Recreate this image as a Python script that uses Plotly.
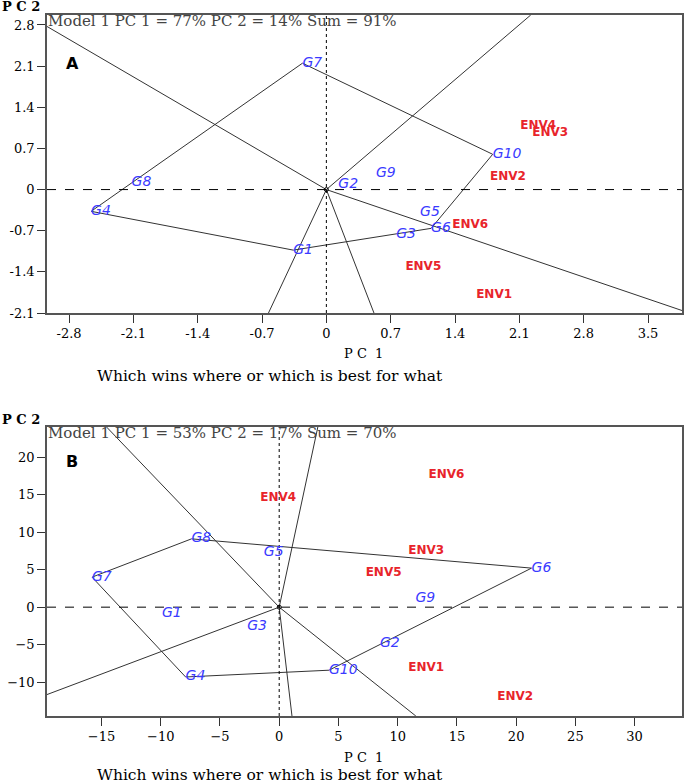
import numpy as np
import plotly.graph_objects as go

# panel A: genotype and environment scores (PC1, PC2)
a_gen = ["G1", "G2", "G3", "G4", "G5", "G6", "G7", "G8", "G9", "G10"]
a_gen_pc1 = [-0.36, 0.13, 0.76, -2.56, 1.02, 1.14, -0.26, -2.12, 0.54, 1.81]
a_gen_pc2 = [-1.03, 0.08, -0.76, -0.37, -0.39, -0.66, 2.15, 0.12, 0.27, 0.60]
a_env = ["ENV1", "ENV2", "ENV3", "ENV4", "ENV5", "ENV6"]
a_env_pc1 = [1.63, 1.78, 2.24, 2.11, 0.86, 1.37]
a_env_pc2 = [-1.79, 0.22, 0.97, 1.08, -1.31, -0.60]
a_hull = ["G7", "G10", "G6", "G1", "G4"]
a_xticks = [-2.8, -2.1, -1.4, -0.7, 0, 0.7, 1.4, 2.1, 2.8, 3.5]
a_yticks = [-2.1, -1.4, -0.7, 0, 0.7, 1.4, 2.1, 2.8]
a_title = "Model 1 PC 1 = 77% PC 2 = 14% Sum = 91%"

# panel B
b_gen = ["G1", "G2", "G3", "G4", "G5", "G6", "G7", "G8", "G9", "G10"]
b_gen_pc1 = [-9.9, 8.5, -2.7, -7.9, -1.3, 21.3, -15.8, -7.4, 11.5, 4.2]
b_gen_pc2 = [-0.9, -4.8, -2.6, -9.3, 7.3, 5.2, 4.0, 9.1, 1.1, -8.4]
b_env = ["ENV1", "ENV2", "ENV3", "ENV4", "ENV5", "ENV6"]
b_env_pc1 = [10.9, 18.4, 10.9, -1.6, 7.3, 12.6]
b_env_pc2 = [-8.1, -12.0, 7.5, 14.5, 4.5, 17.6]
b_hull = ["G7", "G8", "G6", "G10", "G4"]
b_xticks = [-15, -10, -5, 0, 5, 10, 15, 20, 25, 30]
b_yticks = [-10, -5, 0, 5, 10, 15, 20]
b_title = "Model 1 PC 1 = 53% PC 2 = 17% Sum = 70%"

subtitle = "Which wins where or which is best for what"

W, H = 685, 783
L, R, T, B = 47, 684, 15, 716  # plotting block in pixels


def px(xp, yp):
    return (xp - L) / (R - L), (B - yp) / (B - T)


LINE = "#333333"
SERIF = "DejaVu Serif"
SANS = "DejaVu Sans"

fig = go.Figure()


def panel(sfx, gen, gx, gy, env, ex, ey, hull, xr, yr):
    xa, ya = "x" + sfx, "y" + sfx
    pts = {g: (x, y) for g, x, y in zip(gen, gx, gy)}
    ring = hull + hull[:1]
    fig.add_trace(go.Scatter(
        x=[pts[g][0] for g in ring], y=[pts[g][1] for g in ring],
        mode="lines", line=dict(color=LINE, width=1), xaxis=xa, yaxis=ya))
    # rays from origin perpendicular to each polygon side
    for p, q in zip(ring[:-1], ring[1:]):
        (px1, py1), (px2, py2) = pts[p], pts[q]
        d = np.array([-(py2 - py1), px2 - px1])
        if d @ np.array([px1, py1]) < 0:
            d = -d
        ts = []
        for k, rng in ((0, xr), (1, yr)):
            if d[k] > 0:
                ts.append(rng[1] / d[k])
            elif d[k] < 0:
                ts.append(rng[0] / d[k])
        e = d * min(ts)
        fig.add_trace(go.Scatter(x=[0, e[0]], y=[0, e[1]], mode="lines",
                                 line=dict(color=LINE, width=1), xaxis=xa, yaxis=ya))
    fig.add_trace(go.Scatter(x=list(xr), y=[0, 0], mode="lines",
                             line=dict(color="black", width=1, dash="dash"), xaxis=xa, yaxis=ya))
    fig.add_trace(go.Scatter(x=[0, 0], y=list(yr), mode="lines",
                             line=dict(color="black", width=1, dash="dot"), xaxis=xa, yaxis=ya))
    fig.add_trace(go.Scatter(x=[0], y=[0], mode="markers",
                             marker=dict(symbol="circle-open", size=4, color="black"),
                             xaxis=xa, yaxis=ya))
    fig.add_trace(go.Scatter(x=gx, y=gy, text=gen, mode="text", textposition="middle right",
                             textfont=dict(family=SANS, size=14, color="#3a3aff", style="italic"),
                             xaxis=xa, yaxis=ya))
    fig.add_trace(go.Scatter(x=ex, y=ey, text=env, mode="text", textposition="middle right",
                             textfont=dict(family=SANS, size=12, color="#e8242b", weight="bold"),
                             xaxis=xa, yaxis=ya))


a_xr, a_yr = (-3.04, 3.87), (-2.1, 2.97)
b_xr, b_yr = (-19.6, 34.0), (-14.5, 24.0)
panel("", a_gen, a_gen_pc1, a_gen_pc2, a_env, a_env_pc1, a_env_pc2, a_hull, a_xr, a_yr)
panel("2", b_gen, b_gen_pc1, b_gen_pc2, b_env, b_env_pc1, b_env_pc2, b_hull, b_xr, b_yr)

axis_style = dict(showgrid=False, zeroline=False, showline=True, mirror=True,
                  linecolor="#555555", linewidth=1.5, ticks="outside", ticklen=8,
                  tickcolor="#333333", tickfont=dict(family=SERIF, size=13, color="black"))

top_dom = [px(0, 313)[1], 1]
bot_dom = [0, px(0, 427)[1]]

fig.update_layout(
    width=W, height=H, showlegend=False,
    paper_bgcolor="white", plot_bgcolor="white",
    margin=dict(l=L, r=W - R, t=T, b=H - B),
    xaxis=dict(range=a_xr, domain=[0, 1], anchor="y", tickvals=a_xticks,
               ticktext=[f"{v:g}" for v in a_xticks], **axis_style),
    yaxis=dict(range=a_yr, domain=top_dom, anchor="x", tickvals=a_yticks,
               ticktext=[f"{v:g}" for v in a_yticks], **axis_style),
    xaxis2=dict(range=b_xr, domain=[0, 1], anchor="y2", tickvals=b_xticks, **axis_style),
    yaxis2=dict(range=b_yr, domain=bot_dom, anchor="x2", tickvals=b_yticks, **axis_style),
)


def note(text, xp, yp, size=14, family=SERIF, color="black", xanchor="left", yanchor="middle", bold=False):
    x, y = px(xp, yp)
    fig.add_annotation(text=f"<b>{text}</b>" if bold else text, x=x, y=y, xref="paper", yref="paper",
                       xanchor=xanchor, yanchor=yanchor, showarrow=False,
                       font=dict(family=family, size=size, color=color))


# (title y, letter y, PC2 y, PC1 y, subtitle y) per panel, in pixels
for title, letter, ys in ((a_title, "A", (21, 63, 6, 354, 376)),
                          (b_title, "B", (433, 461, 420, 757, 775)),):
    note(title, 46, ys[0], size=15, color="#444444")
    note(letter, 64, ys[1], size=16, family=SANS, bold=True)
    note("P C 2", 0, ys[2], size=13, bold=True)
    note("P C&nbsp;&nbsp;1", 364, ys[3], size=13, xanchor="center")
    note(subtitle, 95, ys[4], size=15.5)

fig.write_html("out.html", config={"displayModeBar": False},
               post_script="document.body.style.margin='0';")
